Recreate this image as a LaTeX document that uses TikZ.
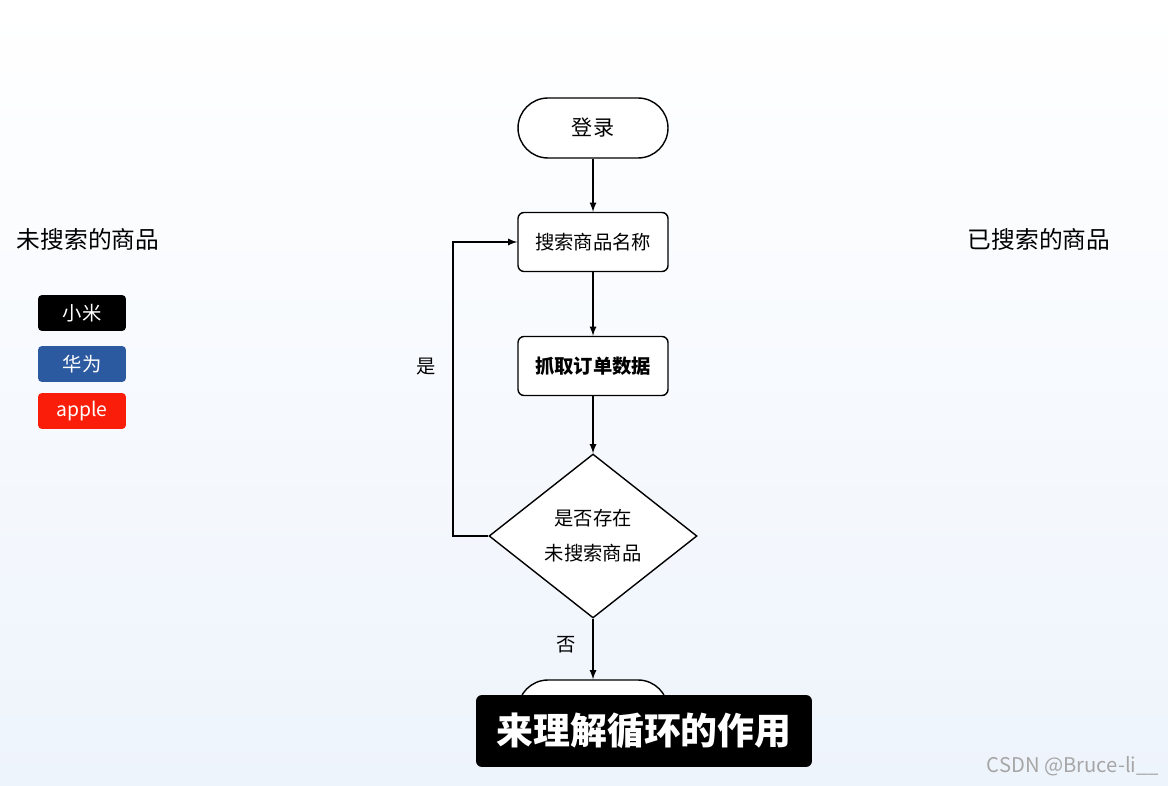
\documentclass[tikz,border=0pt]{standalone}
\usepackage{fontspec}
\setmainfont{Noto Sans CJK SC}
\usetikzlibrary{shapes,arrows,positioning,calc}
\definecolor{goodsblue}{RGB}{44,90,160}
\definecolor{goodsred}{RGB}{250,30,10}
\definecolor{bgblue}{RGB}{238,244,252}
\begin{document}
\begin{tikzpicture}[x=0.02cm,y=-0.02cm,
  term/.style={draw, thick, rounded corners=0.6cm, minimum width=3cm, minimum height=1.2cm, fill=white, font=\fontsize{12}{14}\selectfont},
  proc/.style={draw, thick, rounded corners=0.12cm, minimum width=3cm, minimum height=1.18cm, fill=white, font=\fontsize{11}{13}\selectfont},
  goods/.style={rounded corners=0.08cm, minimum width=1.76cm, minimum height=0.72cm, text=white, font=\fontsize{11}{12}\selectfont},
  flow/.style={thick, -latex}]
				% background
				\shade[top color=white, bottom color=bgblue] (0,0) rectangle (1168,786);
				\useasboundingbox (0,0) rectangle (1168,786);
				
				% flow chart
				\node[term] (login) at (593,128) {登录};
				\node[proc] (search) at (593,242) {搜索商品名称};
				\node[proc, font=\fontsize{11}{13}\selectfont\bfseries] (fetch) at (593,366) {抓取订单数据};
				\node[draw, thick, diamond, fill=white, inner sep=0pt, minimum width=4.16cm, minimum height=3.28cm, align=center, font=\fontsize{11}{20}\selectfont] (check) at (593,536) {是否存在\\未搜索商品};
				\node[term] (finish) at (593,710) {};
				\draw[flow] (login) -- (search);
				\draw[flow] (search) -- (fetch);
				\draw[flow] (fetch) -- (check);
				\draw[flow] (check) -- (finish);
				\coordinate (loop) at (453,536);
				\draw[flow] (check.west) -- (loop) |- (search.west);
				\node[font=\fontsize{11}{12}\selectfont] (yes) at (426,367) {是};
				\node[font=\fontsize{11}{12}\selectfont] (no) at (566,645) {否};
				
				% goods lists
				\node[font=\fontsize{13.5}{15}\selectfont] (todo) at (88,239) {未搜索的商品};
				\node[font=\fontsize{13.5}{15}\selectfont] (done) at (1039,239) {已搜索的商品};
				\node[goods, fill=black] (xiaomi) at (82,313) {小米};
				\node[goods, fill=goodsblue] (huawei) at (82,364) {华为};
				\node[goods, fill=goodsred] (apple) at (82,411) {apple};
				
				% subtitle
				\node[fill=black, rounded corners=0.12cm, text=white, minimum width=6.72cm, minimum height=1.44cm, font=\fontsize{21}{23}\selectfont\bfseries] (caption) at (644,731) {来理解循环的作用};
				\node[text=gray!70, font=\fontsize{11.5}{12}\selectfont] (mark) at (1073,766) {CSDN @Bruce-li\_\_};
			\end{tikzpicture}
\end{document}
